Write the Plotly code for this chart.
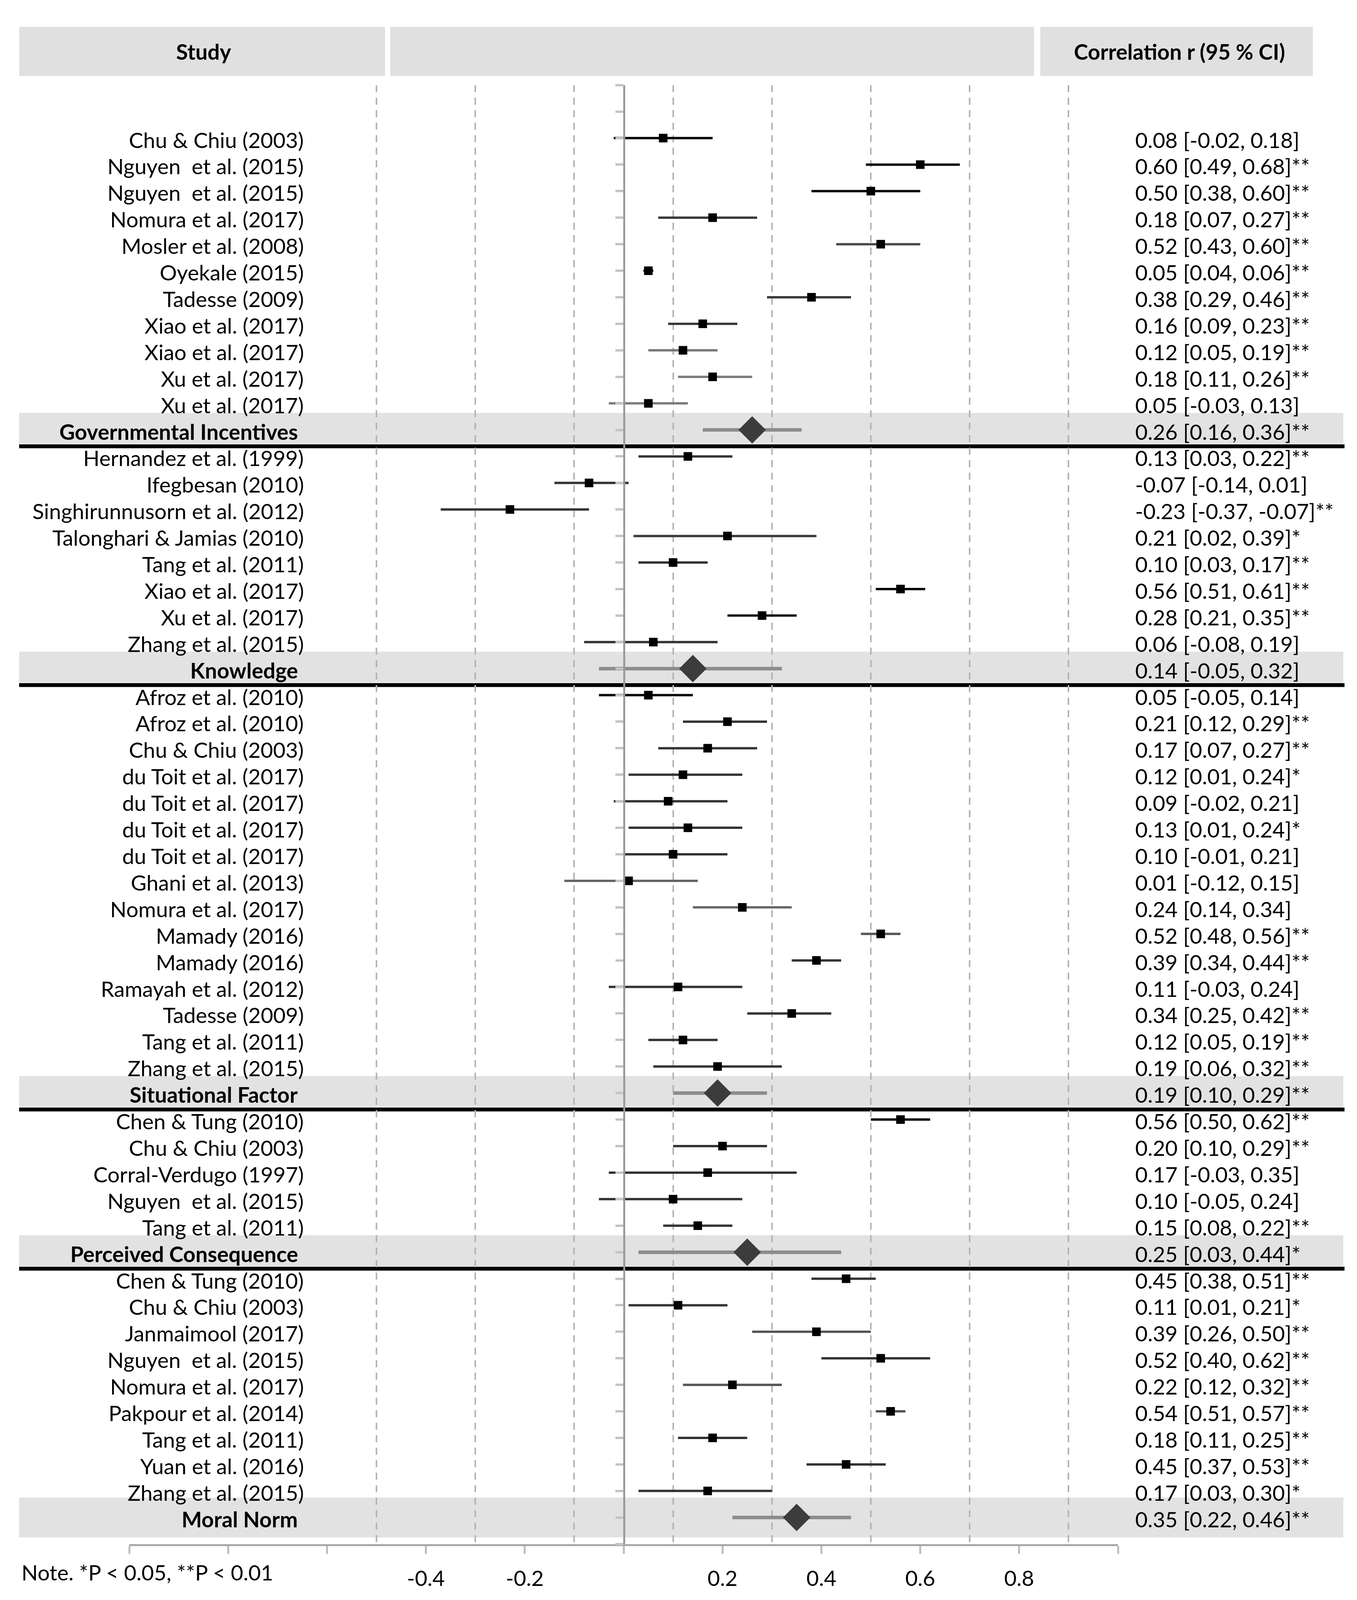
import plotly.graph_objects as go

# ---------------- data ----------------
group_names = ["Governmental Incentives", "Knowledge", "Situational Factor",
               "Perceived Consequence", "Moral Norm"]

group_studies = [
    ["Chu & Chiu (2003)", "Nguyen  et al. (2015)", "Nguyen  et al. (2015)", "Nomura et al. (2017)",
     "Mosler et al. (2008)", "Oyekale (2015)", "Tadesse (2009)", "Xiao et al. (2017)",
     "Xiao et al. (2017)", "Xu et al. (2017)", "Xu et al. (2017)"],
    ["Hernandez et al. (1999)", "Ifegbesan (2010)", "Singhirunnusorn et al. (2012)",
     "Talonghari & Jamias (2010)", "Tang et al. (2011)", "Xiao et al. (2017)",
     "Xu et al. (2017)", "Zhang et al. (2015)"],
    ["Afroz et al. (2010)", "Afroz et al. (2010)", "Chu & Chiu (2003)", "du Toit et al. (2017)",
     "du Toit et al. (2017)", "du Toit et al. (2017)", "du Toit et al. (2017)", "Ghani et al. (2013)",
     "Nomura et al. (2017)", "Mamady (2016)", "Mamady (2016)", "Ramayah et al. (2012)",
     "Tadesse (2009)", "Tang et al. (2011)", "Zhang et al. (2015)"],
    ["Chen & Tung (2010)", "Chu & Chiu (2003)", "Corral-Verdugo (1997)", "Nguyen  et al. (2015)",
     "Tang et al. (2011)"],
    ["Chen & Tung (2010)", "Chu & Chiu (2003)", "Janmaimool (2017)", "Nguyen  et al. (2015)",
     "Nomura et al. (2017)", "Pakpour et al. (2014)", "Tang et al. (2011)", "Yuan et al. (2016)",
     "Zhang et al. (2015)"],
]
group_r = [
    [0.08, 0.60, 0.50, 0.18, 0.52, 0.05, 0.38, 0.16, 0.12, 0.18, 0.05],
    [0.13, -0.07, -0.23, 0.21, 0.10, 0.56, 0.28, 0.06],
    [0.05, 0.21, 0.17, 0.12, 0.09, 0.13, 0.10, 0.01, 0.24, 0.52, 0.39, 0.11, 0.34, 0.12, 0.19],
    [0.56, 0.20, 0.17, 0.10, 0.15],
    [0.45, 0.11, 0.39, 0.52, 0.22, 0.54, 0.18, 0.45, 0.17],
]
group_lo = [
    [-0.02, 0.49, 0.38, 0.07, 0.43, 0.04, 0.29, 0.09, 0.05, 0.11, -0.03],
    [0.03, -0.14, -0.37, 0.02, 0.03, 0.51, 0.21, -0.08],
    [-0.05, 0.12, 0.07, 0.01, -0.02, 0.01, -0.01, -0.12, 0.14, 0.48, 0.34, -0.03, 0.25, 0.05, 0.06],
    [0.50, 0.10, -0.03, -0.05, 0.08],
    [0.38, 0.01, 0.26, 0.40, 0.12, 0.51, 0.11, 0.37, 0.03],
]
group_hi = [
    [0.18, 0.68, 0.60, 0.27, 0.60, 0.06, 0.46, 0.23, 0.19, 0.26, 0.13],
    [0.22, 0.01, -0.07, 0.39, 0.17, 0.61, 0.35, 0.19],
    [0.14, 0.29, 0.27, 0.24, 0.21, 0.24, 0.21, 0.15, 0.34, 0.56, 0.44, 0.24, 0.42, 0.19, 0.32],
    [0.62, 0.29, 0.35, 0.24, 0.22],
    [0.51, 0.21, 0.50, 0.62, 0.32, 0.57, 0.25, 0.53, 0.30],
]
group_sig = [
    ["", "**", "**", "**", "**", "**", "**", "**", "**", "**", ""],
    ["**", "", "**", "*", "**", "**", "**", ""],
    ["", "**", "**", "*", "", "*", "", "", "", "**", "**", "", "**", "**", "**"],
    ["**", "**", "", "", "**"],
    ["**", "*", "**", "**", "**", "**", "**", "**", "*"],
]
summary_r = [0.26, 0.14, 0.19, 0.25, 0.35]
summary_lo = [0.16, -0.05, 0.10, 0.03, 0.22]
summary_hi = [0.36, 0.32, 0.29, 0.44, 0.46]
summary_sig = ["**", "", "**", "*", "**"]

x_tick_values = [-1.0, -0.8, -0.6, -0.4, -0.2, 0.0, 0.2, 0.4, 0.6, 0.8, 1.0]
x_tick_labels = ["", "", "", "-0.4", "-0.2", "", "0.2", "0.4", "0.6", "0.8", ""]
grid_values = [-0.5, -0.3, -0.1, 0.1, 0.3, 0.5, 0.7, 0.9]

header_study = "Study"
header_corr = "Correlation r (95 % CI)"
note_text = "Note. *P < 0.05, **P < 0.01"

# ---------------- styles / layout geometry ----------------
WF, HF = 3455, 4064          # figure size (fits the visible page with body margin)
SY = 4096 / 4228             # vertical scale from reference layout to visible page
OFF = 8                      # page body margin
FONT = "Lato"
FS = 55
ci_shades = [
    ["#000000", "#000000", "#000000", "#383838", "#4a4a4a", "#000000", "#3a3a3a", "#3a3a3a",
     "#777777", "#7a7a7a", "#7a7a7a"],
    ["#333333", "#333333", "#333333", "#3a3a3a", "#333333", "#000000", "#111111", "#333333"],
    ["#000000", "#333333", "#333333", "#333333", "#333333", "#333333", "#333333", "#666666",
     "#666666", "#555555", "#333333", "#333333", "#333333", "#333333", "#333333"],
    ["#000000", "#333333", "#333333", "#333333", "#333333"],
    ["#333333", "#333333", "#555555", "#333333", "#555555", "#555555", "#333333", "#333333",
     "#333333"],
]


def fx(p):
    return (p - OFF) / WF


def fy(p):
    return 1 - (p * SY - OFF) / HF


def fmt(r, lo, hi, s):
    return f"{r:.2f} [{lo:.2f}, {hi:.2f}]{s}"


def txt(text, x, y, anchor, yref="y", yshift=-4):
    return dict(text=text, xref="paper", yref=yref, x=x, y=y, xanchor=anchor,
                yanchor="middle", yshift=yshift, showarrow=False,
                font=dict(family=FONT, size=FS, color="#000"))


fig = go.Figure()
annotations = []
shapes = []

# header boxes
for x0, x1 in [(49, 986), (999, 2648), (2664, 3362)]:
    shapes.append(dict(type="rect", xref="paper", yref="paper",
                       x0=fx(x0), x1=fx(x1), y0=fy(201), y1=fy(71),
                       fillcolor="#e0e0e0", line_width=0, layer="below"))
annotations.append(txt(f"<b>{header_study}</b>", fx(521), fy(136), "center", "paper", 0))
annotations.append(txt(f"<b>{header_corr}</b>", fx(2748), fy(136), "left", "paper", 0))

row = 0
mk_x, mk_y = [], []
sum_rows = []
n_groups = len(group_names)
for g in range(n_groups):
    for i, name in enumerate(group_studies[g]):
        r, lo, hi = group_r[g][i], group_lo[g][i], group_hi[g][i]
        fig.add_trace(go.Scatter(x=[lo, hi], y=[row, row], mode="lines",
                                 line=dict(color=ci_shades[g][i], width=6),
                                 hoverinfo="skip", showlegend=False))
        mk_x.append(r)
        mk_y.append(row)
        annotations.append(txt(name, fx(780), row, "right"))
        annotations.append(txt(fmt(r, lo, hi, group_sig[g][i]), fx(2905), row, "left"))
        row += 1
    last = g == n_groups - 1
    sum_rows.append(row)
    shapes.append(dict(type="rect", xref="paper", yref="y", x0=fx(49), x1=fx(3440),
                       y0=row - (0.75 if last else 0.64), y1=row + (0.75 if last else 0.52),
                       fillcolor="#e2e2e2", line_width=0, layer="below"))
    if not last:
        shapes.append(dict(type="line", xref="paper", yref="y", x0=fx(49), x1=fx(3443),
                           y0=row + 0.62, y1=row + 0.62, line=dict(color="#000", width=10),
                           layer="between"))
    fig.add_trace(go.Scatter(x=[summary_lo[g], summary_hi[g]], y=[row, row], mode="lines",
                             line=dict(color="#8c8c8c", width=9),
                             hoverinfo="skip", showlegend=False))
    annotations.append(txt(f"<b>{group_names[g]}</b>", fx(765), row, "right"))
    annotations.append(txt(fmt(summary_r[g], summary_lo[g], summary_hi[g], summary_sig[g]),
                           fx(2905), row, "left"))
    row += 1

n_rows = row

fig.add_trace(go.Scatter(x=mk_x, y=mk_y, mode="markers",
                         marker=dict(symbol="square", size=22, color="#000000", line_width=0),
                         hoverinfo="skip", showlegend=False))
fig.add_trace(go.Scatter(x=summary_r, y=sum_rows, mode="markers",
                         marker=dict(symbol="diamond", size=54, color="#3c3c3c", line_width=0),
                         hoverinfo="skip", showlegend=False))

annotations.append(txt(note_text, fx(53), fy(4160), "left", "paper", 0))

fig.update_layout(
    width=WF, height=HF,
    margin=dict(l=0, r=0, t=0, b=0),
    paper_bgcolor="white", plot_bgcolor="rgba(0,0,0,0)",
    showlegend=False,
    font=dict(family=FONT, size=FS, color="#000"),
    xaxis=dict(domain=[fx(331), fx(2863)], range=[-1, 1], tickmode="array",
               tickvals=x_tick_values, ticktext=x_tick_labels, ticks="outside", ticklen=20,
               tickwidth=5, tickcolor="#bdbdbd", showline=True, linecolor="#a8a8a8",
               linewidth=5, showgrid=False, zeroline=False, ticklabelstandoff=16,
               tickfont=dict(family=FONT, size=FS, color="#000"),
               minor=dict(tickmode="array", tickvals=grid_values, showgrid=True,
                          gridcolor="#b4b4b4", gridwidth=4, griddash="18px,14px", ticks="")),
    yaxis=dict(domain=[fy(4085), fy(225)], range=[n_rows, -2], anchor="free",
               position=fx(1597.5), tickmode="array", tickvals=list(range(-2, n_rows + 1)),
               showticklabels=False, ticks="outside", ticklen=20, tickwidth=6,
               tickcolor="#c4c4c4", showline=True, linecolor="#9a9a9a", linewidth=5,
               showgrid=False, zeroline=False),
    shapes=shapes,
    annotations=annotations,
)

fig.write_html("out.html")
